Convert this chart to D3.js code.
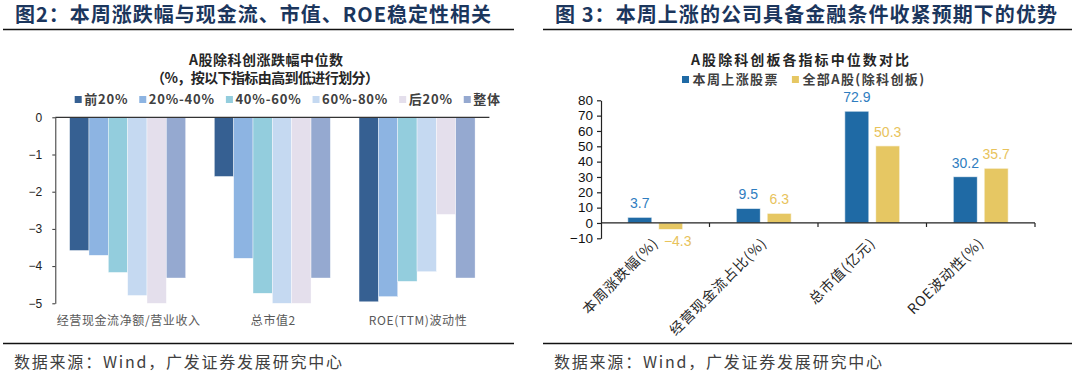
<!DOCTYPE html>
<html>
<head>
<meta charset="utf-8">
<script src="https://cdn.jsdelivr.net/npm/d3@7/dist/d3.min.js"></script>
<style>
  html, body { margin: 0; padding: 0; background: #fff; }
  svg { display: block; }
</style>
</head>
<body>
<script>
// ---------- DATA ----------
const leftCategories = ["经营现金流净额/营业收入", "总市值2", "ROE(TTM)波动性"];
const leftSeries = ["前20%", "20%-40%", "40%-60%", "60%-80%", "后20%", "整体"];
const leftValues = [
  [-3.58, -1.59, -4.96],   // 前20%
  [-3.71, -3.79, -4.82],   // 20%-40%
  [-4.17, -4.73, -4.41],   // 40%-60%
  [-4.79, -5.00, -4.15],   // 60%-80%
  [-5.00, -5.00, -2.61],   // 后20%
  [-4.32, -4.32, -4.32]    // 整体
];
const leftTicks = [0, -1, -2, -3, -4, -5];

const rightCategories = ["本周涨跌幅(%)", "经营现金流占比(%)", "总市值(亿元)", "ROE波动性(%)"];
const rightSeries = ["本周上涨股票", "全部A股(除科创板)"];
const rightRising = [3.7, 9.5, 72.9, 30.2];
const rightAll = [-4.3, 6.3, 50.3, 35.7];
const rightTicks = [80, 70, 60, 50, 40, 30, 20, 10, 0, -10];

// ---------- STYLE ----------
const CJK = "'Noto Sans CJK SC', 'Noto Sans', sans-serif";
const LAT = "'Liberation Sans', Arial, sans-serif";
const leftColors = ["#366092", "#8db4e2", "#93cddd", "#c5d9f1", "#e4dfec", "#95a9d0"];
const rightColors = ["#1f6aa5", "#e6c763"];
const rightLabelColors = ["#2f7dc0", "#e8c35c"];
const titleColor = "#1b365d";

const svg = d3.select("body").append("svg").attr("width", 1080).attr("height", 377);

// ---------- PANEL HEADERS / FOOTERS ----------
function header(x, width, text, lineX0, lineX1) {
  svg.append("text").attr("x", x).attr("y", 22)
    .attr("font-family", CJK).attr("font-weight", "bold").attr("font-size", 20)
    .attr("fill", titleColor)
    .attr("textLength", width).attr("lengthAdjust", "spacing")
    .text(text);
  svg.append("line").attr("x1", lineX0).attr("x2", lineX1).attr("y1", 29.5).attr("y2", 29.5)
    .attr("stroke", "#111").attr("stroke-width", 1.6);
}
function footer(x, lineX0, lineX1) {
  svg.append("line").attr("x1", lineX0).attr("x2", lineX1).attr("y1", 343.5).attr("y2", 343.5)
    .attr("stroke", "#111").attr("stroke-width", 1.6);
  svg.append("text").attr("x", x).attr("y", 368)
    .attr("font-family", CJK).attr("font-size", 16).attr("fill", "#404040")
    .attr("textLength", 328).attr("lengthAdjust", "spacing")
    .text("数据来源：Wind，广发证券发展研究中心");
}
header(15, 476, "图2：本周涨跌幅与现金流、市值、ROE稳定性相关", 3, 514);
header(555, 502, "图 3：本周上涨的公司具备金融条件收紧预期下的优势", 543, 1072);
footer(14, 3, 514);
footer(554, 543, 1072);

function centeredText(cx, y, width, text, size, weight, color) {
  svg.append("text").attr("x", cx - width / 2).attr("y", y)
    .attr("font-family", CJK).attr("font-size", size).attr("font-weight", weight)
    .attr("fill", color).attr("textLength", width).attr("lengthAdjust", "spacing")
    .text(text);
}

// ---------- LEFT CHART ----------
centeredText(266, 65, 154, "A股除科创涨跌幅中位数", 14, "bold", "#262626");
centeredText(265, 83, 228, "（%，按以下指标由高到低进行划分）", 14, "bold", "#262626");

// legend
(function () {
  let x = 74.7;
  const y = 99.5;
  leftSeries.forEach((s, i) => {
    svg.append("rect").attr("x", x).attr("y", y - 3.5).attr("width", 7).attr("height", 7)
      .attr("fill", leftColors[i]);
    const t = svg.append("text").attr("x", x + 9.5).attr("y", y + 4.5)
      .attr("font-family", CJK).attr("font-size", 13).attr("font-weight", "bold")
      .attr("letter-spacing", 0.8).attr("fill", "#404040").text(s);
    x = x + 9.5 + t.node().getComputedTextLength() + 11;
  });
})();

const lx0 = d3.scaleBand().domain(leftCategories).range([55.3, 489.4])
  .paddingInner(0.198).paddingOuter(0.099);
const lx1 = d3.scaleBand().domain(leftSeries).range([0, lx0.bandwidth()]).padding(0);
const ly = d3.scaleLinear().domain([-5, 0]).range([303.3, 117.3]);

const lg = svg.append("g");
leftSeries.forEach((s, si) => {
  lg.selectAll(null).data(leftCategories).join("rect")
    .attr("x", c => lx0(c) + lx1(s))
    .attr("y", ly(0))
    .attr("width", lx1.bandwidth())
    .attr("height", (c, ci) => ly(leftValues[si][ci]) - ly(0))
    .attr("fill", leftColors[si])
    .attr("stroke", "#fff").attr("stroke-width", 0.4);
});

// y axis
const lyAxis = svg.append("g").attr("transform", "translate(55.3,0)")
  .call(d3.axisLeft(ly).tickValues(leftTicks).tickSize(3).tickSizeOuter(0).tickFormat(d3.format("d")));
lyAxis.select(".domain").attr("stroke", "#333");
lyAxis.selectAll(".tick line").attr("stroke", "#333");
lyAxis.selectAll(".tick text").attr("font-family", LAT).attr("font-size", 12).attr("fill", "#222")
  .attr("x", -13);
// zero line
svg.append("line").attr("x1", 55.3).attr("x2", 489.4).attr("y1", ly(0)).attr("y2", ly(0))
  .attr("stroke", "#333").attr("stroke-width", 1.2);

// category labels
svg.selectAll(null).data(leftCategories).join("text")
  .attr("x", c => lx0(c) + lx0.bandwidth() / 2 + 1)
  .attr("y", 324.5)
  .attr("text-anchor", "middle")
  .attr("font-family", CJK).attr("font-size", 12).attr("letter-spacing", 0.6)
  .attr("fill", "#595959")
  .text(c => c);

// ---------- RIGHT CHART ----------
centeredText(800, 64.5, 218, "A股除科创板各指标中位数对比", 14, "bold", "#262626");

(function () {
  const y = 79.5;
  let x = 682;
  rightSeries.forEach((s, i) => {
    svg.append("rect").attr("x", x).attr("y", y - 3.5).attr("width", 7).attr("height", 7)
      .attr("fill", rightColors[i]);
    const t = svg.append("text").attr("x", x + 10.5).attr("y", y + 4.5)
      .attr("font-family", CJK).attr("font-size", 13).attr("font-weight", "bold")
      .attr("letter-spacing", 1.4).attr("fill", "#404040").text(s);
    x = x + 10.5 + t.node().getComputedTextLength() + 13;
  });
})();

const rx0 = d3.scaleBand().domain(rightCategories).range([601, 1035])
  .paddingInner(0.493).paddingOuter(0.2465);
const rx1 = d3.scaleBand().domain(rightSeries).range([0, rx0.bandwidth()]).paddingInner(0.22);
const ry = d3.scaleLinear().domain([-10, 80]).range([238.3, 100.3]);

const rightValues = [rightRising, rightAll];
const rg = svg.append("g");
rightSeries.forEach((s, si) => {
  rg.selectAll(null).data(rightCategories).join("rect")
    .attr("x", c => rx0(c) + rx1(s))
    .attr("y", (c, ci) => ry(Math.max(0, rightValues[si][ci])))
    .attr("width", rx1.bandwidth())
    .attr("height", (c, ci) => Math.abs(ry(rightValues[si][ci]) - ry(0)))
    .attr("fill", rightColors[si])
    .attr("stroke", "#fff").attr("stroke-opacity", 0.7).attr("stroke-width", 1);
  rg.selectAll(null).data(rightCategories).join("text")
    .attr("x", (c, ci) => rx0(c) + rx1(s) + rx1.bandwidth() / 2 + (rightValues[si][ci] < 0 ? 7 : 0))
    .attr("y", (c, ci) => {
      const v = rightValues[si][ci];
      return v >= 0 ? ry(v) - 9 : ry(v) + 16;
    })
    .attr("text-anchor", "middle")
    .attr("font-family", LAT).attr("font-size", 14)
    .attr("fill", rightLabelColors[si])
    .text((c, ci) => d3.format(".1f")(rightValues[si][ci]));
});

const ryAxis = svg.append("g").attr("transform", "translate(601,0)")
  .call(d3.axisLeft(ry).tickValues(rightTicks).tickSize(4).tickSizeOuter(0).tickFormat(d3.format("d")));
ryAxis.select(".domain").attr("stroke", "#222").attr("stroke-width", 1.2);
ryAxis.selectAll(".tick line").attr("stroke", "#222").attr("stroke-width", 1.2);
ryAxis.selectAll(".tick text").attr("font-family", LAT).attr("font-size", 13.5).attr("fill", "#111")
  .attr("x", -8);

// x axis at zero with ticks at category boundaries
svg.append("line").attr("x1", 601).attr("x2", 1035).attr("y1", ry(0)).attr("y2", ry(0))
  .attr("stroke", "#222").attr("stroke-width", 1.2);
svg.selectAll(null).data(rightCategories).join("line")
  .attr("x1", c => rx0(c) + rx0.bandwidth() + rx0.step() * rx0.paddingInner() / 2)
  .attr("x2", c => rx0(c) + rx0.bandwidth() + rx0.step() * rx0.paddingInner() / 2)
  .attr("y1", ry(0)).attr("y2", ry(0) + 4)
  .attr("stroke", "#222").attr("stroke-width", 1.2);

svg.selectAll(null).data(rightCategories).join("text")
  .attr("transform", c => `translate(${rx0(c) + rx0.bandwidth() / 2 + 4},${ry(0) + 21}) rotate(-45)`)
  .attr("text-anchor", "end")
  .attr("font-family", CJK).attr("font-size", 14).attr("letter-spacing", 1)
  .attr("fill", "#262626")
  .text(c => c);
</script>
</body>
</html>
